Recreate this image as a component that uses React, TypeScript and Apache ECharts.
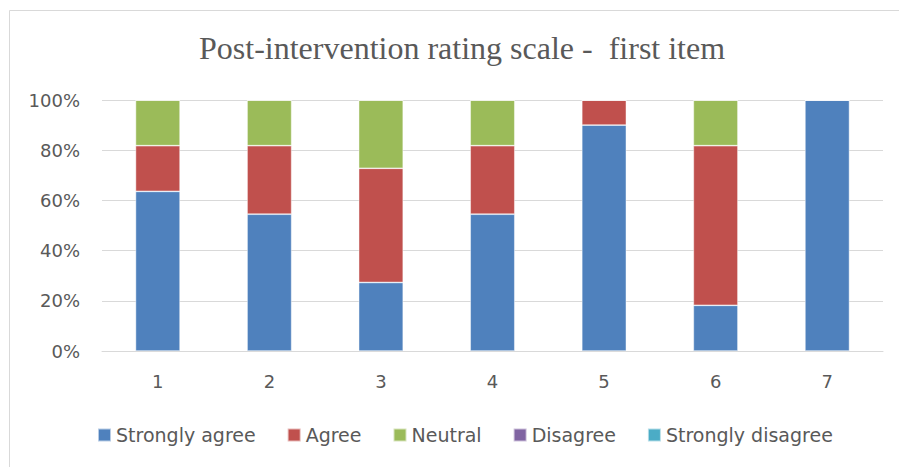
import React, { useEffect, useRef } from "react";
import * as echarts from "echarts";

const categories = ["1", "2", "3", "4", "5", "6", "7"];
const stronglyAgree = [63.6, 54.5, 27.3, 54.5, 90, 18.2, 100];
const agree = [18.2, 27.3, 45.5, 27.3, 10, 63.6, 0];
const neutral = [18.2, 18.2, 27.2, 18.2, 0, 18.2, 0];
const disagree = [0, 0, 0, 0, 0, 0, 0];
const stronglyDisagree = [0, 0, 0, 0, 0, 0, 0];
const seriesNames = ["Strongly agree", "Agree", "Neutral", "Disagree", "Strongly disagree"];
const seriesColors = ["#4F81BD", "#C0504D", "#9BBB59", "#8064A2", "#4BACC6"];
const yTicks = [0, 20, 40, 60, 80, 100];

const TXT = "#595959";
const FONT = "'DejaVu Sans', sans-serif";

export default function App() {
  const ref = useRef<HTMLDivElement>(null);
  useEffect(() => {
    if (!ref.current) return;
    const chart = echarts.init(ref.current, null, { renderer: "svg" });
    const data = [stronglyAgree, agree, neutral, disagree, stronglyDisagree];
    chart.setOption({
      animation: false,
      backgroundColor: "#ffffff",
      title: {
        text: "Post-intervention rating scale -  first item",
        left: 194,
        top: 27,
        textStyle: {
          fontFamily: "'Liberation Serif', 'Times New Roman', serif",
          fontSize: 32,
          fontWeight: "normal",
          color: TXT,
        },
      },
      graphic: [
        {
          type: "rect",
          shape: { x: 9.5, y: 10.5, width: 1000, height: 1000 },
          style: { fill: "none", stroke: "#d9d9d9", lineWidth: 1 },
          silent: true,
        },
      ],
      legend: {
        left: 92,
        top: 420,
        itemWidth: 13,
        itemHeight: 13,
        itemGap: 31,
        icon: "rect",
        textStyle: { fontFamily: FONT, fontSize: 19, color: TXT, lineHeight: 20 },
        data: seriesNames,
      },
      grid: { left: 102, right: 16, top: 100, bottom: 116, containLabel: false },
      xAxis: {
        type: "category",
        data: categories,
        axisLine: { show: true, lineStyle: { color: "#d9d9d9", width: 1 } },
        axisTick: { show: false },
        axisLabel: { fontFamily: FONT, fontSize: 18, color: TXT, margin: 21 },
      },
      yAxis: {
        type: "value",
        min: 0,
        max: 100,
        interval: 20,
        axisLine: { show: false },
        axisTick: { show: false },
        splitLine: { lineStyle: { color: "#d9d9d9", width: 1 } },
        axisLabel: {
          fontFamily: FONT,
          fontSize: 18,
          color: TXT,
          margin: 22,
          formatter: (v: number) => (yTicks.includes(v) ? v + "%" : ""),
        },
      },
      series: seriesNames.map((name, i) => ({
        name,
        type: "bar",
        stack: "total",
        barWidth: "40%",
        data: data[i],
        itemStyle: { color: seriesColors[i], borderColor: "rgba(255,255,255,0.6)", borderWidth: 0.75 },
      })),
    });
    return () => chart.dispose();
  }, []);
  return (
    <div
      ref={ref}
      style={{ position: "absolute", left: 0, top: 0, width: 899, height: 467 }}
    />
  );
}
